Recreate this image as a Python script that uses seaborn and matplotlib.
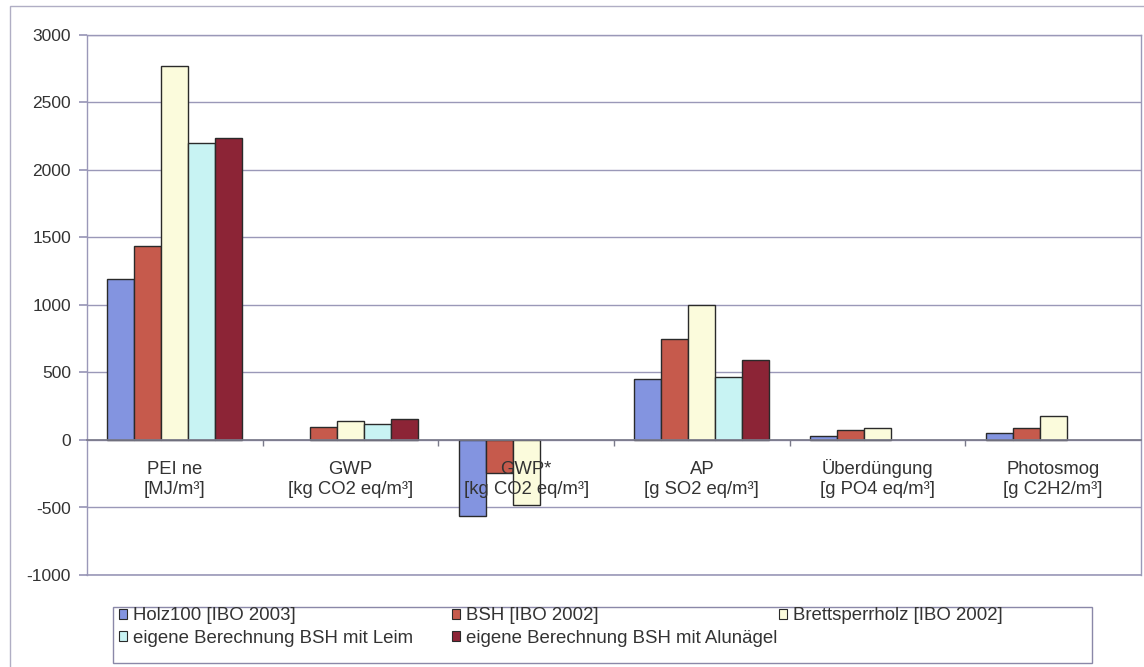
import numpy as np
import pandas as pd
import matplotlib
matplotlib.use("Agg")
import matplotlib.pyplot as plt
from matplotlib.patches import Patch, Rectangle
import seaborn as sns

# categories (x axis) and series
categories = ["PEI ne\n[MJ/m³]", "GWP\n[kg CO2 eq/m³]", "GWP*\n[kg CO2 eq/m³]",
              "AP\n[g SO2 eq/m³]", "Überdüngung\n[g PO4 eq/m³]", "Photosmog\n[g C2H2/m³]"]
series = ["Holz100 [IBO 2003]", "BSH [IBO 2002]", "Brettsperrholz [IBO 2002]",
          "eigene Berechnung BSH mit Leim", "eigene Berechnung BSH mit Alunägel"]

# values per series (nan = no bar)
holz100 = [1190, np.nan, -560, 455, 30, 50]
bsh = [1440, 95, -245, 745, 75, 90]
brettsperrholz = [2770, 140, -480, 1000, 90, 180]
bsh_leim = [2200, 120, np.nan, 470, np.nan, np.nan]
bsh_alunaegel = [2240, 155, np.nan, 590, np.nan, np.nan]

colors = ["#8394e0", "#c65a4c", "#fbfbdc", "#c8f3f3", "#8c2436"]

values = [holz100, bsh, brettsperrholz, bsh_leim, bsh_alunaegel]
df = pd.DataFrame({
    "kategorie": np.tile(categories, len(series)),
    "serie": np.repeat(series, len(categories)),
    "wert": np.concatenate(values),
})

sns.set_theme(style="white")
plt.rcParams["font.family"] = ["Liberation Sans", "DejaVu Sans"]
plt.rcParams["axes.unicode_minus"] = False
text_col = "#333333"
grid_col = "#9a98b8"

W, H = 1144, 667
fig = plt.figure(figsize=(W / 100, H / 100), dpi=100)
ax = fig.add_axes([87 / W, 1 - 575 / H, (1141 - 87) / W, (575 - 35) / H])

sns.barplot(data=df, x="kategorie", y="wert", hue="serie", order=categories,
            hue_order=series, palette=colors, width=0.77, gap=0,
            edgecolor="#2a2a2a", linewidth=1.0, saturation=1, legend=False,
            errorbar=None, ax=ax, zorder=3)

ax.set_xlim(-0.5, len(categories) - 0.5)
ax.set_ylim(-1000, 3000)
ax.set_yticks(np.arange(-1000, 3001, 500))
ax.yaxis.grid(True, color=grid_col, linewidth=1.0)
ax.axhline(-1000, color=grid_col, linewidth=1.2, clip_on=False, zorder=1)
ax.set_axisbelow(True)
ax.set_xlabel("")
ax.set_ylabel("")

# x axis runs through zero, like the Excel original; labels sit over the bars
ax.spines["bottom"].set_position(("data", 0))
ax.spines["bottom"].set_color("#7a7a8a")
ax.spines["bottom"].set_zorder(4)
for s in ["left", "right", "top"]:
    ax.spines[s].set_color(grid_col)
    ax.spines[s].set_linewidth(1.0)

ax.set_xticks(range(len(categories)))
# baseline alignment keeps "Überdüngung" level with the other labels
ax.set_xticklabels(categories, fontsize=13.3, color=text_col, linespacing=1.25,
                   va="baseline")
ax.set_xticks(np.arange(0.5, len(categories) - 0.5, 1), minor=True)
ax.tick_params(axis="x", which="major", length=0, pad=39)
ax.tick_params(axis="x", which="minor", length=4, direction="out", color="#7a7a8a", bottom=True)
ax.tick_params(axis="y", length=6, direction="out", color=grid_col, labelsize=12.5,
               labelcolor=text_col, pad=5.5, left=True)
ax.xaxis.set_zorder(5)

# outer chart frame
fig.patches.append(Rectangle((10 / W, -0.1), 1.2, 1.1 - 6 / H, transform=fig.transFigure,
                             fill=False, edgecolor="#b0aec4", linewidth=1.0))

# legend box, Excel style with fixed column widths
fig.patches.append(Rectangle((113 / W, 1 - 663 / H), (1092 - 113) / W, (663 - 607) / H,
                             transform=fig.transFigure, fill=False,
                             edgecolor="#8a88a8", linewidth=1.0))
columns = [([0, 3], 119, 627), ([1, 4], 452, 627), ([2], 779, 616)]
for idx, x0, yc in columns:
    handles = [Patch(facecolor=colors[i], edgecolor="#2a2a2a", linewidth=0.8) for i in idx]
    fig.legend(handles, [series[i] for i in idx], loc="center left",
               bbox_to_anchor=(x0 / W, 1 - yc / H), frameon=False, fontsize=13.4,
               handlelength=0.45, handleheight=0.45, handletextpad=0.3,
               labelspacing=0.3, borderpad=0, borderaxespad=0, labelcolor=text_col)

fig.savefig("out.png", dpi=100)
